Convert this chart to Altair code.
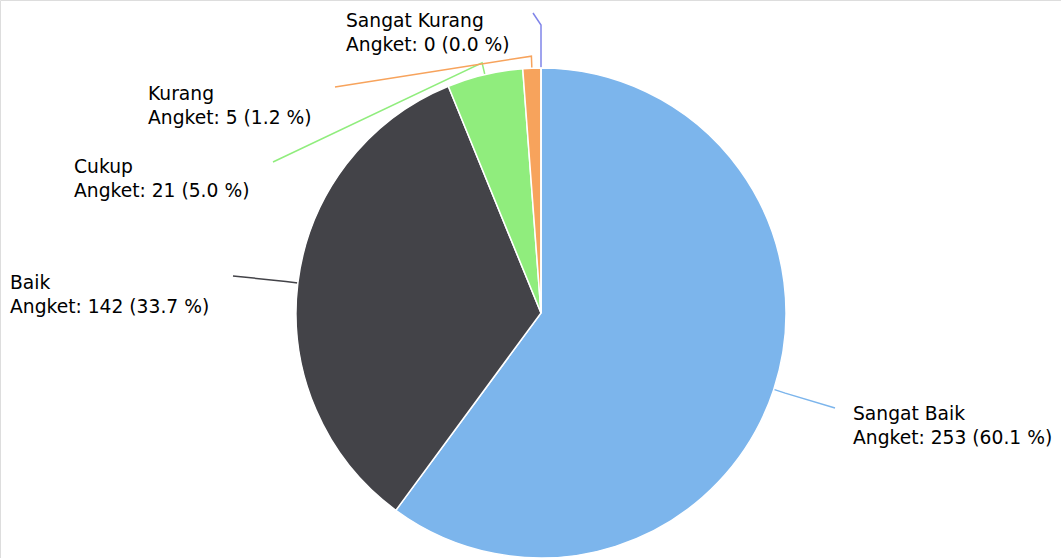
import math
import altair as alt
import pandas as pd

# ---- data ----
categories = ["Sangat Baik", "Baik", "Cukup", "Kurang", "Sangat Kurang"]
values = [253, 142, 21, 5, 0]
colors = ["#7cb5ec", "#434348", "#90ed7d", "#f7a35c", "#8085e9"]

# ---- layout (label anchors, not data) ----
W, H = 1061, 558
CX, CY, R = 541, 313, 245
label_pos = [(853, 420), (10, 289), (74, 173), (148, 100), (346, 27)]
connector_end = [(835, 408), (233, 276), (273, 162), (335, 87), (533, 13)]
LINE_GAP = 24

total = sum(values)
rows, conn, labels = [], [], []
cum = 0.0
for i, (c, v) in enumerate(zip(categories, values)):
    start = cum
    cum += v / total * 2 * math.pi
    mid = (start + cum) / 2
    rows.append({"cat": c, "val": v, "idx": i})
    pts = [
        (CX + R * math.sin(mid), CY - R * math.cos(mid)),
        (CX + (R + 12) * math.sin(mid), CY - (R + 12) * math.cos(mid)),
    ]
    if v == 0:
        pts.append((pts[1][0], CY - (R + 43)))
    pts.append(connector_end[i])
    for k, (px, py) in enumerate(pts):
        conn.append({"cat": c, "k": k, "px": px, "py": py})
    pct = v / total * 100
    lx, ly = label_pos[i]
    labels.append({"cat": c, "px": lx, "py": ly, "t": c})
    labels.append({"cat": c, "px": lx, "py": ly + LINE_GAP, "t": f"Angket: {v} ({pct:.1f} %)"})

df = pd.DataFrame(rows)
cdf = pd.DataFrame(conn)
ldf = pd.DataFrame(labels)

color_scale = alt.Scale(domain=categories, range=colors)
xs = alt.Scale(domain=[0, W], range=[0, W], nice=False, zero=False)
ys = alt.Scale(domain=[0, H], range=[0, H], nice=False, zero=False)

pie = alt.Chart(df).mark_arc(outerRadius=R, stroke="#ffffff", strokeWidth=1.5).encode(
    theta=alt.Theta("val:Q", stack=True),
    order=alt.Order("idx:Q"),
    color=alt.Color("cat:N", scale=color_scale, legend=None),
    x=alt.value(CX),
    y=alt.value(CY),
)

lines = alt.Chart(cdf).mark_line(strokeWidth=1.5).encode(
    x=alt.X("px:Q", scale=xs, axis=None),
    y=alt.Y("py:Q", scale=ys, axis=None),
    order=alt.Order("k:Q"),
    color=alt.Color("cat:N", scale=color_scale, legend=None),
    detail="cat:N",
)

texts = alt.Chart(ldf).mark_text(
    align="left", baseline="alphabetic", font="DejaVu Sans", fontSize=18.7, color="#000000"
).encode(
    x=alt.X("px:Q", scale=xs, axis=None),
    y=alt.Y("py:Q", scale=ys, axis=None),
    text="t:N",
)

chart = alt.layer(lines, pie, texts).properties(
    width=W, height=H, autosize=alt.AutoSizeParams(type="none"), padding=0
).configure_view(stroke=None).configure(background="#ffffff")

chart.save("out.html", embed_options={"renderer": "svg", "actions": False})
